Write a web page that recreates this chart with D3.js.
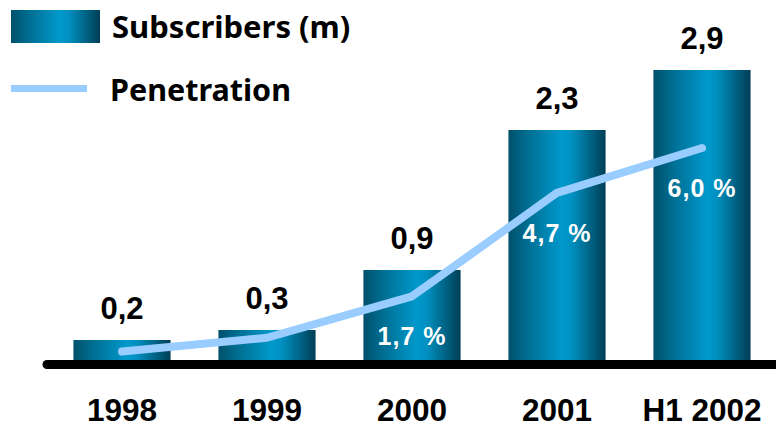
<!DOCTYPE html>
<html>
<head>
<meta charset="utf-8">
<script src="https://cdn.jsdelivr.net/npm/d3@7"></script>
<style>
  html, body { margin: 0; padding: 0; background: #fff; }
  svg { display: block; }
</style>
</head>
<body>
<svg id="chart" width="776" height="428"></svg>
<script>
// Subscriber counts (millions) and penetration (%) by period
const categories = ["1998", "1999", "2000", "2001", "H1 2002"];
const subscribers = [0.2, 0.3, 0.9, 2.3, 2.9];
const subscriberLabels = ["0,2", "0,3", "0,9", "2,3", "2,9"];
const penetration = [0.1, 0.5, 1.7, 4.7, 6.0];
const penetrationLabels = [null, null, "1,7 %", "4,7 %", "6,0 %"];

const svg = d3.select("#chart");
const numFont = "'Liberation Sans', Arial, sans-serif";
const legendFont = "'Noto Sans', 'DejaVu Sans', sans-serif";

// Cylinder-like horizontal gradient for the bars
const defs = svg.append("defs");
const grad = defs.append("linearGradient")
  .attr("id", "barGrad").attr("x1", "0%").attr("x2", "100%").attr("y1", "0%").attr("y2", "0%");
[["0%", "#00506b"], ["20%", "#006e92"], ["55%", "#0099cc"], ["65%", "#0090c0"], ["100%", "#003e55"]]
  .forEach(([o, c]) => grad.append("stop").attr("offset", o).attr("stop-color", c));

const x = d3.scaleBand().domain(categories).range([49.5, 774.5])
  .paddingInner(0.33).paddingOuter(0.165);
const baseY = 360;
const yBar = d3.scaleLinear().domain([0, 3]).range([baseY, baseY - 300]);
const yPen = d3.scaleLinear().domain([0, 6]).range([355, 148]);

// Bars
svg.append("g").selectAll("rect").data(categories).join("rect")
  .attr("x", d => x(d))
  .attr("y", (d, i) => yBar(subscribers[i]))
  .attr("width", x.bandwidth())
  .attr("height", (d, i) => baseY - yBar(subscribers[i]))
  .attr("fill", "url(#barGrad)");

// Baseline
svg.append("line")
  .attr("x1", 47).attr("x2", 776).attr("y1", 364.5).attr("y2", 364.5)
  .attr("stroke", "#000").attr("stroke-width", 9).attr("stroke-linecap", "round");

// Subscriber value labels
svg.append("g").selectAll("text").data(categories).join("text")
  .attr("x", d => x(d) + x.bandwidth() / 2)
  .attr("y", (d, i) => yBar(subscribers[i]) - 21)
  .attr("text-anchor", "middle")
  .attr("font-family", numFont).attr("font-weight", "bold").attr("font-size", 31)
  .attr("fill", "#000")
  .text((d, i) => subscriberLabels[i]);

// Penetration line
const line = d3.line()
  .x((d, i) => x(categories[i]) + x.bandwidth() / 2)
  .y(d => yPen(d));
svg.append("path").datum(penetration)
  .attr("d", line)
  .attr("fill", "none").attr("stroke", "#99ccff").attr("stroke-width", 8)
  .attr("stroke-linecap", "round").attr("stroke-linejoin", "round");

// Penetration labels
svg.append("g").selectAll("text").data(categories).join("text")
  .filter((d, i) => penetrationLabels[i])
  .attr("x", d => x(d) + x.bandwidth() / 2)
  .attr("y", d => yPen(penetration[categories.indexOf(d)]) + 49)
  .attr("text-anchor", "middle")
  .attr("font-family", numFont).attr("font-weight", "bold").attr("font-size", 25)
  .attr("letter-spacing", 1)
  .attr("fill", "#fff")
  .text(d => penetrationLabels[categories.indexOf(d)]);

// Category axis labels
svg.append("g").selectAll("text").data(categories).join("text")
  .attr("x", d => x(d) + x.bandwidth() / 2)
  .attr("y", 421)
  .attr("text-anchor", "middle")
  .attr("font-family", numFont).attr("font-weight", "bold").attr("font-size", 31.5)
  .attr("fill", "#000")
  .text(d => d);

// Legend
const legend = svg.append("g");
legend.append("rect").attr("x", 11).attr("y", 10).attr("width", 89).attr("height", 33)
  .attr("fill", "url(#barGrad)");
legend.append("text").attr("x", 112).attr("y", 38)
  .attr("font-family", legendFont).attr("font-weight", "bold").attr("font-size", 31)
  .attr("fill", "#000").text("Subscribers (m)");
legend.append("line").attr("x1", 11).attr("x2", 87).attr("y1", 88.5).attr("y2", 88.5)
  .attr("stroke", "#99ccff").attr("stroke-width", 7);
legend.append("text").attr("x", 110).attr("y", 101)
  .attr("font-family", legendFont).attr("font-weight", "bold").attr("font-size", 30.5)
  .attr("fill", "#000").text("Penetration");
</script>
</body>
</html>
